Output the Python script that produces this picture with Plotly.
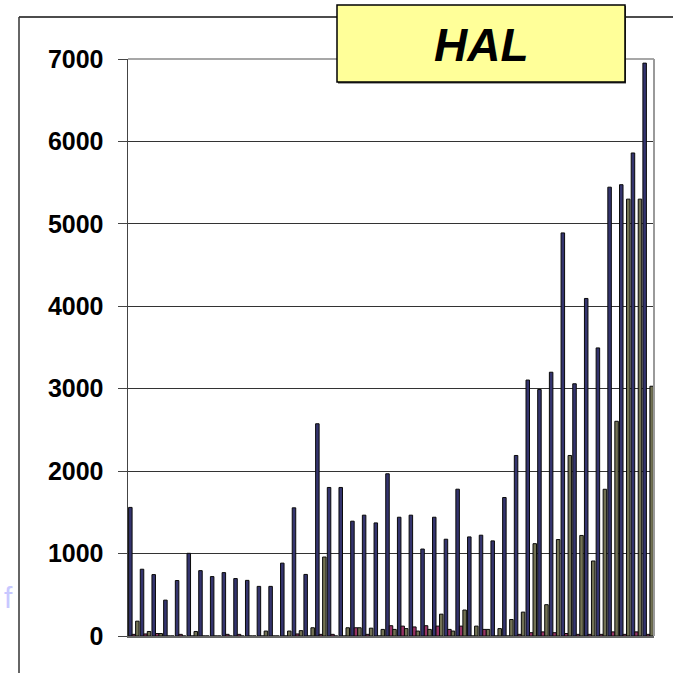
import plotly.graph_objects as go

# ---- data ----
categories = [str(i) for i in range(1, 46)]
series_a = [1560, 810, 745, 435, 673, 1003, 793, 721, 769, 697,
            675, 602, 602, 884, 1555, 747, 2575, 1802, 1802, 1393,
            1466, 1372, 1968, 1441, 1466, 1055, 1441, 1174, 1781, 1202,
            1223, 1154, 1680, 2190, 3105, 2990, 3200, 4890, 3060, 4095,
            3495, 5445, 5475, 5860, 6950]
series_b = [20, 25, 30, 0, 20, 0, 0, 0, 20, 20,
            0, 0, 0, 0, 25, 0, 20, 20, 0, 100,
            20, 0, 125, 120, 110, 125, 120, 80, 120, 0,
            80, 0, 0, 20, 40, 50, 40, 30, 20, 20,
            20, 50, 20, 50, 20]
series_c = [180, 55, 30, 0, 0, 55, 0, 0, 0, 0,
            0, 60, 0, 60, 65, 100, 958, 0, 100, 100,
            95, 80, 80, 90, 60, 80, 265, 60, 315, 120,
            80, 90, 200, 290, 1120, 380, 1170, 2190, 1220, 910,
            1780, 2605, 5300, 5300, 3030]
y_ticks = [0, 1000, 2000, 3000, 4000, 5000, 6000, 7000]
title_text = "HAL"

W, H = 673, 673
L, R, T, B = 128, 654, 59, 636  # plot area in pixels


def px(x):
    return (x - L) / (R - L)


def py(y):
    return (B - y) / (B - T)


fig = go.Figure()
for vals, fill in [(series_a, "#34346e"), (series_b, "#993366"), (series_c, "#727254")]:
    fig.add_trace(go.Bar(x=categories, y=vals, marker=dict(color=fill, line=dict(color="#0a0a0a", width=1)),
                         showlegend=False, hoverinfo="skip"))

shapes = [
    # outer frame (top and left)
    dict(type="line", xref="paper", yref="paper", x0=px(19), x1=px(680), y0=py(17), y1=py(17),
         line=dict(color="#111111", width=1.5), layer="above"),
    dict(type="line", xref="paper", yref="paper", x0=px(19), x1=px(19), y0=py(17), y1=py(680),
         line=dict(color="#333333", width=1.5), layer="above"),
    # plot area top and right border
    dict(type="line", xref="paper", yref="paper", x0=0, x1=1, y0=1, y1=1,
         line=dict(color="#8a8a8a", width=1.5), layer="above"),
    dict(type="line", xref="paper", yref="paper", x0=1, x1=1, y0=0, y1=1,
         line=dict(color="#9a9a9a", width=2), layer="above"),
    # title box shadow + box
    dict(type="rect", xref="paper", yref="paper", x0=px(338), x1=px(626), y0=py(83.5), y1=py(6),
         fillcolor="#444444", line=dict(width=0), layer="above"),
    dict(type="rect", xref="paper", yref="paper", x0=px(337), x1=px(625), y0=py(82), y1=py(5),
         fillcolor="#FFFF99", line=dict(color="#000000", width=1.5), layer="above"),
]

annotations = [
    dict(text="<b><i>" + title_text + "</i></b>", xref="paper", yref="paper", x=px(481), y=py(45),
         xanchor="center", yanchor="middle", showarrow=False,
         font=dict(family="Liberation Sans, Arial, sans-serif", size=46, color="#000000")),
    dict(text="f", xref="paper", yref="paper", x=px(8), y=py(597), xanchor="center", yanchor="middle",
         showarrow=False, font=dict(family="Liberation Sans, Arial, sans-serif", size=30, color="#c8c8ff")),
]

fig.update_layout(
    width=W, height=H,
    margin=dict(l=L, r=W - R, t=T, b=H - B, pad=0),
    paper_bgcolor="#ffffff", plot_bgcolor="#ffffff",
    barmode="group", bargap=0.1, bargroupgap=0,
    shapes=shapes, annotations=annotations,
    xaxis=dict(showticklabels=False, ticks="", showgrid=False, zeroline=False,
               showline=True, linecolor="#666666", linewidth=2, range=[-0.5, 44.5]),
    yaxis=dict(range=[0, 7000], tickvals=y_ticks, ticktext=[str(v) for v in y_ticks],
               showgrid=True, gridcolor="#333333", gridwidth=1, zeroline=False,
               showline=True, linecolor="#444444", linewidth=1.5,
               ticks="outside", ticklen=9, tickcolor="#444444", tickwidth=1,
               ticklabelstandoff=9,
               tickfont=dict(family="Liberation Sans, Arial, sans-serif", size=25, color="#000000", weight="bold")),
)

fig.write_html("out.html", config={"displayModeBar": False, "staticPlot": True},
               post_script="document.body.style.margin='0';document.body.style.overflow='hidden';")
